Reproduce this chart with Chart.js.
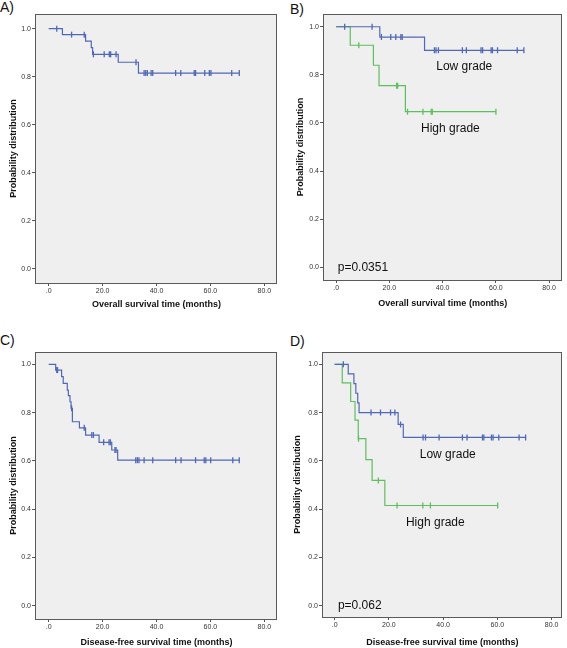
<!DOCTYPE html>
<html>
<head>
<meta charset="utf-8">
<script src="https://cdn.jsdelivr.net/npm/chart.js@4"></script>
<style>
  body { margin: 0; background: #fff; }
  #page { position: relative; width: 567px; height: 648px; overflow: hidden; }
  canvas { position: absolute; }
  .tag { position: absolute; font: 14px Arial, "Liberation Sans", sans-serif; color: #111; }
</style>
</head>
<body>
<div id="page">
  <div class="tag" style="left:0px;top:-1px">A)</div>
  <div class="tag" style="left:290px;top:1px">B)</div>
  <div class="tag" style="left:0px;top:332px">C)</div>
  <div class="tag" style="left:290px;top:333px">D)</div>
  <canvas id="chartA" width="283" height="320" style="left:0;top:0"></canvas>
  <canvas id="chartB" width="284" height="320" style="left:283px;top:0"></canvas>
  <canvas id="chartC" width="283" height="328" style="left:0;top:320px"></canvas>
  <canvas id="chartD" width="284" height="328" style="left:283px;top:320px"></canvas>
</div>
<script>
// tick labels
const xTicks = [0, 20, 40, 60, 80];
const xTickLabels = ['.0', '20.0', '40.0', '60.0', '80.0'];
const yTicks = [0, 0.2, 0.4, 0.6, 0.8, 1.0];
const yTickLabels = ['0.0', '0.2', '0.4', '0.6', '0.8', '1.0'];

// A) overall survival, all patients
const aTimes = [0, 5.1, 13.7, 15.8, 16.3, 25.8, 33.3];
const aSurv = [1.0, 0.975, 0.948, 0.921, 0.893, 0.860, 0.815];
const aCensor = [3.0, 8.5, 13.2, 16.6, 20.6, 22.5, 23.0, 25.0, 32.4, 35.4, 36.0, 36.6, 38.0, 38.6, 47.1, 49.0, 54.0, 54.5, 57.9, 59.6, 60.2, 67.9, 70.7];

// B) overall survival by grade
const bLowTimes = [0, 16.4, 33.2];
const bLowSurv = [1.0, 0.957, 0.902];
const bLowCensor = [3.2, 13.5, 17.0, 20.5, 22.4, 24.3, 24.8, 36.9, 37.5, 38.4, 47.4, 48.9, 54.4, 55.0, 58.2, 58.7, 60.6, 68.0, 70.5];
const bHighTimes = [0, 5.3, 14.0, 16.1, 26.0];
const bHighSurv = [1.0, 0.923, 0.840, 0.755, 0.647];
const bHighCensor = [8.5, 22.7, 23.1, 26.8, 32.6, 35.7, 36.1, 60.0];

// C) disease-free survival, all patients
const cTimes = [0, 2.6, 4.8, 5.4, 6.9, 7.3, 7.9, 8.3, 8.8, 11.4, 13.7, 18.7, 23.4, 25.6];
const cSurv = [1.0, 0.976, 0.949, 0.921, 0.893, 0.870, 0.845, 0.818, 0.762, 0.737, 0.707, 0.677, 0.645, 0.603];
const cCensor = [3.0, 3.3, 8.5, 13.2, 16.0, 16.6, 20.4, 22.4, 22.9, 24.6, 25.0, 32.3, 32.9, 33.5, 35.4, 38.6, 47.1, 49.1, 54.5, 57.7, 58.3, 60.1, 68.3, 70.7];

// D) disease-free survival by grade
const dLowTimes = [0, 5.0, 7.1, 7.8, 8.5, 9.0, 23.4, 25.3];
const dLowSurv = [1.0, 0.96, 0.92, 0.88, 0.84, 0.80, 0.751, 0.697];
const dLowCensor = [3.2, 13.4, 16.9, 20.6, 22.2, 24.3, 32.6, 33.5, 38.5, 47.1, 48.8, 54.5, 55.0, 57.8, 58.4, 60.5, 68.0, 70.4];
const dHighTimes = [0, 2.8, 5.9, 7.5, 8.7, 11.5, 13.8, 18.5];
const dHighSurv = [1.0, 0.923, 0.846, 0.769, 0.692, 0.605, 0.519, 0.415];
const dHighCensor = [8.8, 16.1, 23.0, 32.5, 35.3, 60.1];

const BLUE = '#5068b8';
const GREEN = '#5cc05c';
const FONT = 'Arial, "Liberation Sans", sans-serif';

// survival level at time t (step function)
function levelAt(times, surv, t) {
    let v = surv[0];
    for (let i = 0; i < times.length; i++) {
        if (times[i] <= t) v = surv[i];
    }
    return v;
}

function kmDatasets(times, surv, censor, color) {
    const end = Math.max(times[times.length - 1], censor[censor.length - 1]);
    const curve = times.map((t, i) => ({ x: t, y: surv[i] }));
    curve.push({ x: end, y: surv[surv.length - 1] });
    return [
        {
            data: curve,
            stepped: true,
            borderColor: color,
            borderWidth: 1.2,
            pointRadius: 0,
            fill: false
        },
        {
            data: censor.map(t => ({ x: t, y: levelAt(times, surv, t) })),
            showLine: false,
            pointStyle: 'line',
            rotation: 90,
            pointRadius: 3,
            borderColor: color,
            borderWidth: 1.3,
            backgroundColor: color
        }
    ];
}

// grey plot area, frame and text notes
const framePlugin = {
    id: 'frame',
    beforeDraw(chart) {
        const a = chart.chartArea;
        const ctx = chart.ctx;
        ctx.save();
        ctx.fillStyle = '#efefef';
        ctx.fillRect(a.left, a.top, a.right - a.left, a.bottom - a.top);
        ctx.restore();
    },
    afterDraw(chart, args, opts) {
        const a = chart.chartArea;
        const ctx = chart.ctx;
        ctx.save();
        ctx.strokeStyle = '#5a5a5a';
        ctx.lineWidth = 1;
        ctx.strokeRect(Math.round(a.left) - 0.5, Math.round(a.top) + 0.5,
            Math.round(a.right - a.left), Math.round(a.bottom - a.top));
        ctx.fillStyle = '#111';
        ctx.font = '12px ' + FONT;
        ctx.textBaseline = 'middle';
        (opts.notes || []).forEach(n => {
            ctx.textAlign = n.align;
            ctx.fillText(n.text, chart.scales.x.getPixelForValue(n.x), chart.scales.y.getPixelForValue(n.y));
        });
        ctx.restore();
    }
};

function makeChart(id, box, datasets, notes, xTitle) {
    return new Chart(document.getElementById(id), {
        type: 'line',
        data: { datasets: datasets },
        plugins: [framePlugin],
        options: {
            responsive: false,
            animation: false,
            layout: { padding: { top: box.padTop, right: box.padRight, left: 0, bottom: 0 } },
            plugins: {
                legend: { display: false },
                tooltip: { enabled: false },
                frame: { notes: notes }
            },
            scales: {
                x: {
                    type: 'linear',
                    min: box.xMin,
                    max: box.xMax,
                    afterBuildTicks: s => { s.ticks = xTicks.map(v => ({ value: v })); },
                    afterFit: s => { s.height = box.xHeight; },
                    grid: { drawOnChartArea: false, tickLength: 3, color: '#555' },
                    border: { display: false },
                    ticks: {
                        padding: 1,
                        color: '#333',
                        font: { family: FONT, size: 7 },
                        maxRotation: 0,
                        callback: (v, i) => xTickLabels[i]
                    },
                    title: {
                        display: true,
                        text: xTitle,
                        color: '#111',
                        font: { family: FONT, size: 9, weight: 'bold' },
                        padding: { top: 0, bottom: box.xTitlePad }
                    }
                },
                y: {
                    type: 'linear',
                    min: box.yMin,
                    max: box.yMax,
                    afterBuildTicks: s => { s.ticks = yTicks.map(v => ({ value: v })); },
                    afterFit: s => { s.width = box.yWidth; },
                    grid: { drawOnChartArea: false, tickLength: 4, color: '#555' },
                    border: { display: false },
                    ticks: {
                        padding: 1,
                        color: '#333',
                        font: { family: FONT, size: 7 },
                        callback: (v, i) => yTickLabels[i]
                    },
                    title: {
                        display: true,
                        text: 'Probability distribution',
                        color: '#111',
                        font: { family: FONT, size: 9, weight: 'bold' },
                        padding: { top: box.yTitlePad, bottom: 0 }
                    }
                }
            }
        }
    });
}

makeChart('chartA',
    { padTop: 14, padRight: 6, yWidth: 36, xHeight: 37, yTitlePad: 7.9, xTitlePad: 9.6, xMin: -4.7, xMax: 84.7, yMin: -0.060, yMax: 1.061 },
    kmDatasets(aTimes, aSurv, aCensor, BLUE),
    [],
    'Overall survival time (months)');

makeChart('chartB',
    { padTop: 14, padRight: 2, yWidth: 41, xHeight: 40, yTitlePad: 11.9, xTitlePad: 10.6, xMin: -4.56, xMax: 84.7, yMin: -0.053, yMax: 1.053 },
    kmDatasets(bLowTimes, bLowSurv, bLowCensor, BLUE).concat(kmDatasets(bHighTimes, bHighSurv, bHighCensor, GREEN)),
    [
        { text: 'Low grade', x: 48.1, y: 0.832, align: 'center' },
        { text: 'High grade', x: 42.9, y: 0.575, align: 'center' },
        { text: 'p=0.0351', x: 0.6, y: 0.0, align: 'left' }
    ],
    'Overall survival time (months)');

makeChart('chartC',
    { padTop: 32, padRight: 6, yWidth: 36, xHeight: 29, yTitlePad: 7.9, xTitlePad: 0.3, xMin: -4.7, xMax: 84.7, yMin: -0.055, yMax: 1.051 },
    kmDatasets(cTimes, cSurv, cCensor, BLUE),
    [],
    'Disease-free survival time (months)');

makeChart('chartD',
    { padTop: 32, padRight: 5, yWidth: 40, xHeight: 31, yTitlePad: 9.6, xTitlePad: 0.3, xMin: -4.3, xMax: 83.7, yMin: -0.047, yMax: 1.051 },
    kmDatasets(dLowTimes, dLowSurv, dLowCensor, BLUE).concat(kmDatasets(dHighTimes, dHighSurv, dHighCensor, GREEN)),
    [
        { text: 'Low grade', x: 41.7, y: 0.624, align: 'center' },
        { text: 'High grade', x: 37.1, y: 0.343, align: 'center' },
        { text: 'p=0.062', x: 1.2, y: 0.0, align: 'left' }
    ],
    'Disease-free survival time (months)');
</script>
</body>
</html>
